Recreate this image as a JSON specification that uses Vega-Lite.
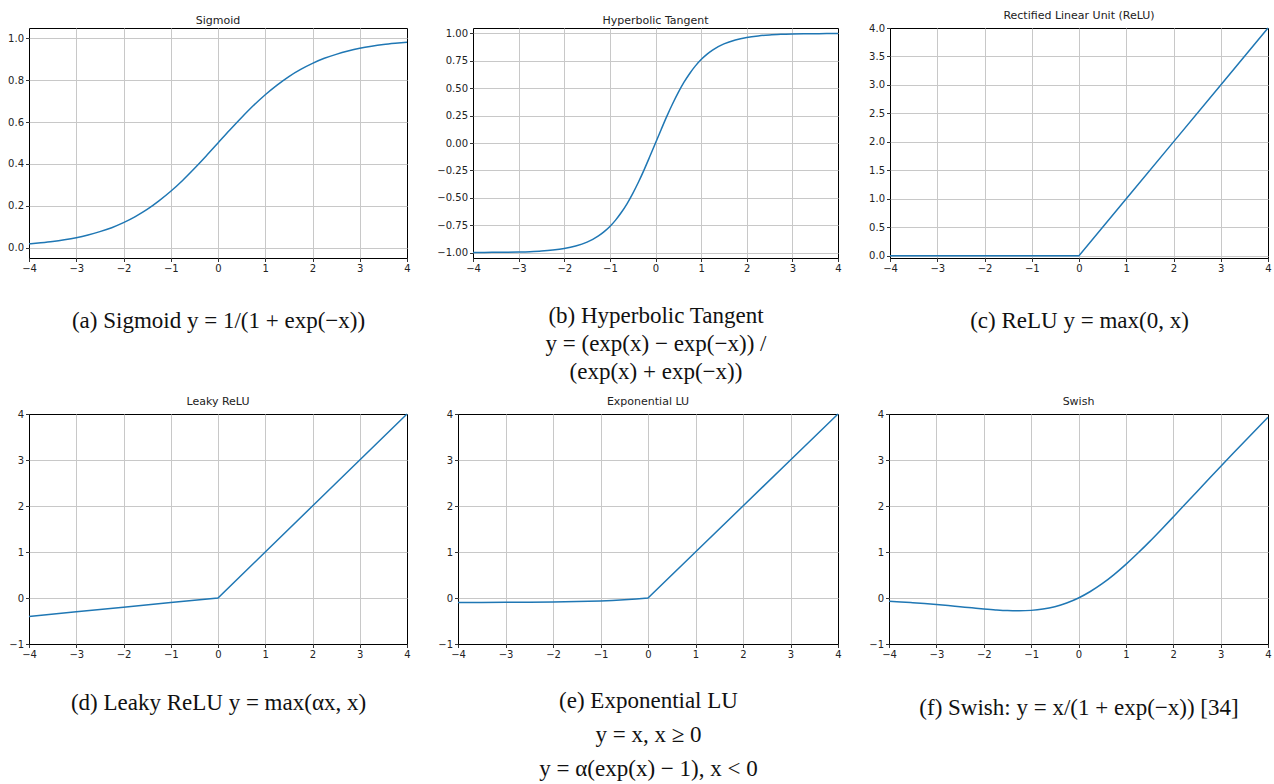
{
  "$schema": "https://vega.github.io/schema/vega-lite/v6.json",
  "padding": {"left": 7, "top": 9, "right": 0, "bottom": 0},
  "background": "white",
  "datasets": {
    "sigmoid": [
      {"x": -4, "y": 0.018}, {"x": -3.75, "y": 0.023}, {"x": -3.5, "y": 0.029}, {"x": -3.25, "y": 0.037},
      {"x": -3, "y": 0.047}, {"x": -2.75, "y": 0.06}, {"x": -2.5, "y": 0.076}, {"x": -2.25, "y": 0.095},
      {"x": -2, "y": 0.119}, {"x": -1.75, "y": 0.148}, {"x": -1.5, "y": 0.182}, {"x": -1.25, "y": 0.223},
      {"x": -1, "y": 0.269}, {"x": -0.75, "y": 0.321}, {"x": -0.5, "y": 0.378}, {"x": -0.25, "y": 0.438},
      {"x": 0, "y": 0.5}, {"x": 0.25, "y": 0.562}, {"x": 0.5, "y": 0.622}, {"x": 0.75, "y": 0.679},
      {"x": 1, "y": 0.731}, {"x": 1.25, "y": 0.777}, {"x": 1.5, "y": 0.818}, {"x": 1.75, "y": 0.852},
      {"x": 2, "y": 0.881}, {"x": 2.25, "y": 0.905}, {"x": 2.5, "y": 0.924}, {"x": 2.75, "y": 0.94},
      {"x": 3, "y": 0.953}, {"x": 3.25, "y": 0.963}, {"x": 3.5, "y": 0.971}, {"x": 3.75, "y": 0.977},
      {"x": 4, "y": 0.982}
    ],
    "tanh": [
      {"x": -4, "y": -0.999}, {"x": -3.75, "y": -0.999}, {"x": -3.5, "y": -0.998}, {"x": -3.25, "y": -0.997},
      {"x": -3, "y": -0.995}, {"x": -2.75, "y": -0.992}, {"x": -2.5, "y": -0.987}, {"x": -2.25, "y": -0.978},
      {"x": -2, "y": -0.964}, {"x": -1.75, "y": -0.941}, {"x": -1.5, "y": -0.905}, {"x": -1.375, "y": -0.88},
      {"x": -1.25, "y": -0.848}, {"x": -1.125, "y": -0.809}, {"x": -1, "y": -0.762}, {"x": -0.875, "y": -0.704},
      {"x": -0.75, "y": -0.635}, {"x": -0.625, "y": -0.555}, {"x": -0.5, "y": -0.462}, {"x": -0.375, "y": -0.358},
      {"x": -0.25, "y": -0.245}, {"x": -0.125, "y": -0.124},
      {"x": 0, "y": 0}, {"x": 0.125, "y": 0.124}, {"x": 0.25, "y": 0.245}, {"x": 0.375, "y": 0.358},
      {"x": 0.5, "y": 0.462}, {"x": 0.625, "y": 0.555}, {"x": 0.75, "y": 0.635}, {"x": 0.875, "y": 0.704},
      {"x": 1, "y": 0.762}, {"x": 1.125, "y": 0.809}, {"x": 1.25, "y": 0.848}, {"x": 1.375, "y": 0.88},
      {"x": 1.5, "y": 0.905}, {"x": 1.75, "y": 0.941},
      {"x": 2, "y": 0.964}, {"x": 2.25, "y": 0.978}, {"x": 2.5, "y": 0.987}, {"x": 2.75, "y": 0.992},
      {"x": 3, "y": 0.995}, {"x": 3.25, "y": 0.997}, {"x": 3.5, "y": 0.998}, {"x": 3.75, "y": 0.999},
      {"x": 4, "y": 0.999}
    ],
    "relu": [
      {"x": -4, "y": 0}, {"x": -2, "y": 0}, {"x": 0, "y": 0}, {"x": 1, "y": 1}, {"x": 2, "y": 2}, {"x": 3, "y": 3}, {"x": 4, "y": 4}
    ],
    "leaky": [
      {"x": -4, "y": -0.4}, {"x": -3, "y": -0.3}, {"x": -2, "y": -0.2}, {"x": -1, "y": -0.1}, {"x": 0, "y": 0},
      {"x": 1, "y": 1}, {"x": 2, "y": 2}, {"x": 3, "y": 3}, {"x": 4, "y": 4}
    ],
    "elu": [
      {"x": -4, "y": -0.098}, {"x": -3.5, "y": -0.097}, {"x": -3, "y": -0.095}, {"x": -2.5, "y": -0.092},
      {"x": -2, "y": -0.086}, {"x": -1.5, "y": -0.078}, {"x": -1, "y": -0.063}, {"x": -0.75, "y": -0.053},
      {"x": -0.5, "y": -0.039}, {"x": -0.25, "y": -0.022}, {"x": 0, "y": 0}, {"x": 1, "y": 1}, {"x": 2, "y": 2},
      {"x": 3, "y": 3}, {"x": 4, "y": 4}
    ],
    "swish": [
      {"x": -4, "y": -0.072}, {"x": -3.75, "y": -0.086}, {"x": -3.5, "y": -0.103}, {"x": -3.25, "y": -0.121},
      {"x": -3, "y": -0.142}, {"x": -2.75, "y": -0.165}, {"x": -2.5, "y": -0.19}, {"x": -2.25, "y": -0.214},
      {"x": -2, "y": -0.238}, {"x": -1.75, "y": -0.259}, {"x": -1.5, "y": -0.274}, {"x": -1.25, "y": -0.278},
      {"x": -1, "y": -0.269}, {"x": -0.75, "y": -0.241}, {"x": -0.5, "y": -0.189}, {"x": -0.25, "y": -0.109},
      {"x": 0, "y": 0}, {"x": 0.25, "y": 0.141}, {"x": 0.5, "y": 0.311}, {"x": 0.75, "y": 0.509},
      {"x": 1, "y": 0.731}, {"x": 1.25, "y": 0.972}, {"x": 1.5, "y": 1.226}, {"x": 1.75, "y": 1.491},
      {"x": 2, "y": 1.762}, {"x": 2.25, "y": 2.036}, {"x": 2.5, "y": 2.31}, {"x": 2.75, "y": 2.585},
      {"x": 3, "y": 2.858}, {"x": 3.25, "y": 3.129}, {"x": 3.5, "y": 3.398}, {"x": 3.75, "y": 3.664},
      {"x": 4, "y": 3.928}
    ]
  },
  "config": {
    "view": {"stroke": "#000000", "strokeWidth": 1},
    "axis": {
      "grid": true, "gridColor": "#c8c8c8", "gridWidth": 1, "domain": false,
      "tickColor": "#000000", "tickSize": 3.5, "tickWidth": 0.8,
      "labelFont": "DejaVu Sans", "labelFontSize": 10, "labelColor": "#222222", "labelPadding": 2,
      "labelFlush": false, "labelOverlap": false,
      "titleFont": "Liberation Serif", "titleFontSize": 23, "titleFontWeight": "normal", "titleColor": "#111111"
    },
    "axisX": {"gridOpacity": {"condition": {"test": "abs(datum.value) == 4", "value": 0}, "value": 1}},
    "title": {"font": "DejaVu Sans", "fontSize": 11, "fontWeight": "normal", "color": "#222222", "offset": 2, "frame": "group"},
    "line": {"color": "#1f77b4", "strokeWidth": 1.5}
  },
  "vconcat": [
    {
      "hconcat": [
        {
          "width": 378, "height": 230, "title": "Sigmoid",
          "data": {"name": "sigmoid"},
          "mark": {"type": "line", "interpolate": "monotone"},
          "encoding": {
            "x": {"field": "x", "type": "quantitative", "scale": {"domain": [-4, 4], "nice": false, "zero": false},
                  "axis": {"values": [-4, -3, -2, -1, 0, 1, 2, 3, 4], "format": "d", "title": "(a) Sigmoid y = 1/(1 + exp(−x))", "titlePadding": 36}},
            "y": {"field": "y", "type": "quantitative", "scale": {"domain": [-0.05, 1.05], "nice": false, "zero": false},
                  "axis": {"values": [0, 0.2, 0.4, 0.6, 0.8, 1], "format": ".1f", "title": null}}
          }
        },
        {
          "hconcat": [
            {
              "width": 365, "height": 230, "title": "Hyperbolic Tangent",
              "data": {"name": "tanh"},
              "mark": {"type": "line", "interpolate": "monotone"},
              "encoding": {
                "x": {"field": "x", "type": "quantitative", "scale": {"domain": [-4, 4], "nice": false, "zero": false},
                      "axis": {"values": [-4, -3, -2, -1, 0, 1, 2, 3, 4], "format": "d", "title": ["(b) Hyperbolic Tangent", "y = (exp(x) − exp(−x)) /", "(exp(x) + exp(−x))"], "titlePadding": 31, "titleLineHeight": 28}},
                "y": {"field": "y", "type": "quantitative", "scale": {"domain": [-1.05, 1.05], "nice": false, "zero": false},
                      "axis": {"values": [-1, -0.75, -0.5, -0.25, 0, 0.25, 0.5, 0.75, 1], "format": ".2f", "title": null}}
              }
            },
            {
              "width": 378, "height": 230, "title": "Rectified Linear Unit (ReLU)",
              "data": {"name": "relu"},
              "mark": "line",
              "encoding": {
                "x": {"field": "x", "type": "quantitative", "scale": {"domain": [-4, 4], "nice": false, "zero": false},
                      "axis": {"values": [-4, -3, -2, -1, 0, 1, 2, 3, 4], "format": "d", "title": "(c) ReLU y = max(0, x)", "titlePadding": 36}},
                "y": {"field": "y", "type": "quantitative", "scale": {"domain": [-0.04, 4], "nice": false, "zero": false},
                      "axis": {"values": [0, 0.5, 1, 1.5, 2, 2.5, 3, 3.5, 4], "format": ".1f", "title": null,
                               "gridOpacity": {"condition": {"test": "datum.value == 4", "value": 0}, "value": 1}}}
              }
            }
          ],
          "spacing": 52, "bounds": "flush"
        }
      ],
      "spacing": 66, "bounds": "flush"
    },
    {
      "hconcat": [
        {
          "width": 378, "height": 230, "title": "Leaky ReLU",
          "data": {"name": "leaky"},
          "mark": "line",
          "encoding": {
            "x": {"field": "x", "type": "quantitative", "scale": {"domain": [-4, 4], "nice": false, "zero": false},
                  "axis": {"values": [-4, -3, -2, -1, 0, 1, 2, 3, 4], "format": "d", "title": "(d) Leaky ReLU y = max(αx, x)", "titlePadding": 32}},
            "y": {"field": "y", "type": "quantitative", "scale": {"domain": [-1, 4], "nice": false, "zero": false},
                  "axis": {"values": [-1, 0, 1, 2, 3, 4], "format": "d", "title": null,
                           "gridOpacity": {"condition": {"test": "datum.value == 4 || datum.value == -1", "value": 0}, "value": 1}}}
          }
        },
        {
          "width": 380, "height": 230, "title": "Exponential LU",
          "data": {"name": "elu"},
          "mark": "line",
          "encoding": {
            "x": {"field": "x", "type": "quantitative", "scale": {"domain": [-4, 4], "nice": false, "zero": false},
                  "axis": {"values": [-4, -3, -2, -1, 0, 1, 2, 3, 4], "format": "d", "title": ["(e) Exponential LU", "y = x,   x ≥ 0", "y = α(exp(x) − 1),   x < 0"], "titlePadding": 30, "titleLineHeight": 34}},
            "y": {"field": "y", "type": "quantitative", "scale": {"domain": [-1, 4], "nice": false, "zero": false},
                  "axis": {"values": [-1, 0, 1, 2, 3, 4], "format": "d", "title": null,
                           "gridOpacity": {"condition": {"test": "datum.value == 4 || datum.value == -1", "value": 0}, "value": 1}}}
          }
        },
        {
          "width": 379, "height": 230, "title": "Swish",
          "data": {"name": "swish"},
          "mark": {"type": "line", "interpolate": "monotone"},
          "encoding": {
            "x": {"field": "x", "type": "quantitative", "scale": {"domain": [-4, 4], "nice": false, "zero": false},
                  "axis": {"values": [-4, -3, -2, -1, 0, 1, 2, 3, 4], "format": "d", "title": "(f) Swish: y = x/(1 + exp(−x)) [34]", "titlePadding": 37}},
            "y": {"field": "y", "type": "quantitative", "scale": {"domain": [-1, 4], "nice": false, "zero": false},
                  "axis": {"values": [-1, 0, 1, 2, 3, 4], "format": "d", "title": null,
                           "gridOpacity": {"condition": {"test": "datum.value == 4 || datum.value == -1", "value": 0}, "value": 1}}}
          }
        }
      ],
      "spacing": 51, "bounds": "flush"
    }
  ],
  "spacing": 11
}
